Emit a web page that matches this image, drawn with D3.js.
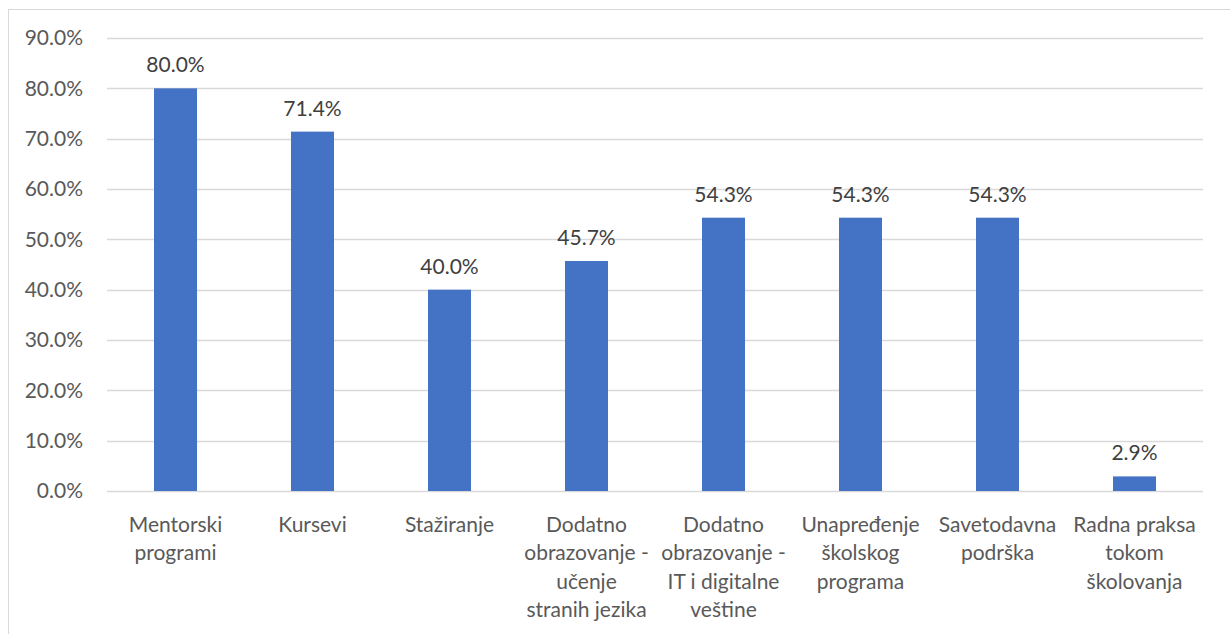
<!DOCTYPE html>
<html>
<head>
<meta charset="utf-8">
<script src="https://cdn.jsdelivr.net/npm/d3@7"></script>
<style>
  body { margin: 0; background: #fff; }
  svg { display: block; font-family: Lato, "Open Sans", sans-serif; }
</style>
</head>
<body>
<script>
"use strict";
(function(){
    // chart data
    const categories = [
        ["Mentorski", "programi"],
        ["Kursevi"],
        ["Stažiranje"],
        ["Dodatno", "obrazovanje -", "učenje", "stranih jezika"],
        ["Dodatno", "obrazovanje -", "IT i digitalne", "veštine"],
        ["Unapređenje", "školskog", "programa"],
        ["Savetodavna", "podrška"],
        ["Radna praksa", "tokom", "školovanja"]
    ]
    const values = [80.0, 71.4, 40.0, 45.7, 54.3, 54.3, 54.3, 2.9]
    const yTicks = [0, 10, 20, 30, 40, 50, 60, 70, 80, 90]

    const measurements = {
        width: 1230,
        height: 634,
        left: 107,
        right: 1203,
        top: 38,
        bottom: 491,
        fontSize: 21
    }

    const svg = d3.select("body").append("svg")
        .attr("width", measurements.width)
        .attr("height", measurements.height)

    // chart frame
    svg.append("rect")
        .attr("x", 8.5)
        .attr("y", 9.5)
        .attr("width", 1240)
        .attr("height", 640)
        .attr("fill", "none")
        .attr("stroke", "#d9d9d9")

    const idx = categories.map((c, i) => i)

    let scaleX = d3.scaleBand()
        .domain(idx)
        .range([measurements.left, measurements.right])
        .paddingInner(0.686)
        .paddingOuter(0.343)

    let scaleY = d3.scaleLinear()
        .domain([0, 90])
        .range([measurements.bottom, measurements.top])

    // gridlines
    svg.append("g")
        .selectAll("line")
        .data(yTicks)
        .enter()
        .append("line")
            .attr("x1", measurements.left)
            .attr("x2", measurements.right)
            .attr("y1", d => Math.round(scaleY(d)) + 0.5)
            .attr("y2", d => Math.round(scaleY(d)) + 0.5)
            .attr("stroke", "#d9d9d9")
            .attr("stroke-width", 1.3)

    // y axis labels
    let yAxis = d3.axisLeft(scaleY)
        .tickValues(yTicks)
        .tickSize(0)
        .tickPadding(24)
        .tickFormat(d => d.toFixed(1) + "%")

    const yG = svg.append("g")
        .attr("transform", `translate(${measurements.left},0)`)
        .call(yAxis)
    yG.select(".domain").remove()
    yG.selectAll("text")
        .attr("font-size", measurements.fontSize)
        .attr("font-family", "Lato, 'Open Sans', sans-serif")
        .attr("fill", "#595959")

    // bars
    svg.append("g")
        .selectAll("rect")
        .data(values)
        .enter()
        .append("rect")
            .attr("x", (d, i) => scaleX(i))
            .attr("y", d => scaleY(d))
            .attr("width", scaleX.bandwidth())
            .attr("height", d => scaleY(0) - scaleY(d))
            .attr("fill", "#4472c4")

    // data labels
    svg.append("g")
        .selectAll("text")
        .data(values)
        .enter()
        .append("text")
            .attr("x", (d, i) => scaleX(i) + scaleX.bandwidth() / 2)
            .attr("y", d => scaleY(d) - 16)
            .attr("text-anchor", "middle")
            .attr("font-size", measurements.fontSize)
            .attr("fill", "#404040")
            .text(d => d.toFixed(1) + "%")

    // category labels
    let xAxis = d3.axisBottom(scaleX)
        .tickSize(0)
        .tickFormat("")

    const xG = svg.append("g")
        .attr("transform", `translate(0,${measurements.bottom})`)
        .call(xAxis)
    xG.select(".domain").remove()

    xG.selectAll(".tick").each(function(i) {
        const t = d3.select(this).append("text")
            .attr("text-anchor", "middle")
            .attr("font-size", measurements.fontSize)
            .attr("font-family", "Lato, 'Open Sans', sans-serif")
            .attr("fill", "#595959")
        categories[i].forEach((line, k) => {
            t.append("tspan")
                .attr("x", 0)
                .attr("y", 41 + k * 28.3)
                .text(line)
        })
    })
})()
</script>
</body>
</html>
